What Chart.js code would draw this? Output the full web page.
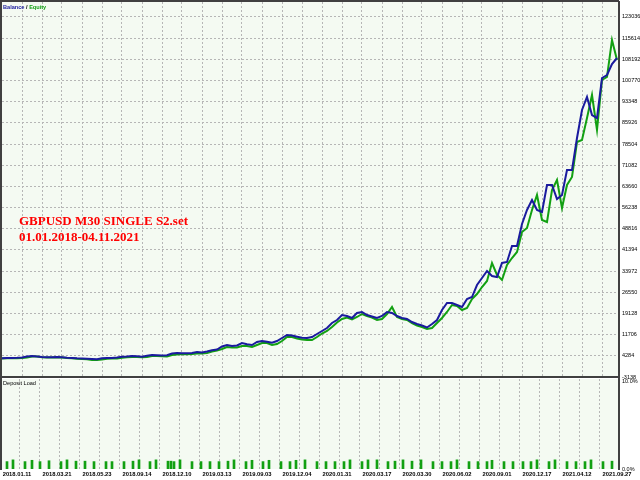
<!DOCTYPE html>
<html>
<head>
<meta charset="utf-8">
<script src="https://cdn.jsdelivr.net/npm/chart.js@4/dist/chart.umd.min.js"></script>
<style>
  body { margin: 0; background: #fff; }
  #wrap { position: relative; width: 640px; height: 480px; overflow: hidden; }
  #mainBox { position: absolute; left: 0; top: 0; }
  #loadBox { position: absolute; left: 0; top: 378px; }
  .tiny { position: absolute; font: 5.6px 'Liberation Sans', Arial, sans-serif; white-space: nowrap; color: #000; }
  .title { position: absolute; left: 19px; color: #ff0000; font: bold 13px 'Liberation Serif', 'Times New Roman', serif; white-space: nowrap; }
</style>
</head>
<body>
<div id="wrap">
  <canvas id="mainBox" width="640" height="384"></canvas>
  <canvas id="loadBox" width="640" height="102"></canvas>
  <div class="tiny" style="left:3px;top:4px;font-weight:bold"><span style="color:#1a1a9e">Balance</span> / <span style="color:#12a012">Equity</span></div>
  <div class="title" style="top:213px">GBPUSD M30 SINGLE S2.set</div>
  <div class="title" style="top:229px">01.01.2018-04.11.2021</div>
  <div class="tiny" style="left:3px;top:380px">Deposit Load</div>
</div>
<script>
// x axis date labels (every other grid line)
var dateLabels = ['2018.01.11','2018.03.21','2018.05.23','2018.09.14','2018.12.10','2019.03.13','2019.09.03','2019.12.04',
  '2020.01.31','2020.03.17','2020.03.30','2020.06.02','2020.09.01','2020.12.17','2021.04.12','2021.09.27'];

// right axis values of the balance panel
var yTickValues = [-3138, 4284, 11706, 19128, 26550, 33972, 41394, 48816, 56238, 63660, 71082, 78504, 85926, 93348, 100770, 108192, 115614, 123036];

// balance / equity, one value per step along the trade axis
var balance = [
  3410, 3520, 3520, 3590, 3700, 4050, 4220, 4050, 3870, 3800,
  3770, 3870, 3770, 3590, 3520, 3410, 3340, 3240, 3170, 3060,
  3410, 3520, 3520, 3700, 3940, 4050, 4220, 4120, 3980, 4290,
  4570, 4470, 4360, 4470, 5100, 5270, 5170, 5200, 5270, 5620,
  5450, 5800, 6220, 6500, 7550, 8080, 7720, 7900, 8780, 8320,
  8080, 9130, 9480, 9230, 8850, 9480, 10530, 11580, 11400, 10980,
  10600, 10530, 10880, 11930, 12980, 14030, 15780, 16840, 18590, 18240,
  17540, 19290, 19640, 18590, 18060, 17540, 18240, 19640, 19290, 18240,
  17540, 17190, 16130, 15430, 14910, 14210, 15430, 16840, 20340, 22790,
  22790, 22090, 21390, 24190, 24890, 29100, 31550, 34000, 32250, 31900,
  36810, 37160, 42760, 42760, 50470, 55380, 58880, 55380, 54680, 64140,
  64140, 59230, 60640, 69400, 69400, 80610, 90420, 94970, 88670, 87620,
  101630, 102680, 106540, 108640
];
var equity = [
  3340, 3450, 3450, 3410, 3520, 3700, 4050, 4050, 3800, 3700,
  3700, 3770, 3700, 3520, 3410, 3240, 3170, 3060, 2820, 2820,
  2990, 3240, 3340, 3340, 3590, 3770, 3870, 3870, 3770, 3870,
  4220, 4220, 4120, 4050, 4570, 4750, 4920, 4820, 4920, 5100,
  5100, 5270, 5800, 6150, 6670, 7370, 7200, 7200, 7720, 7720,
  7370, 8080, 8780, 8780, 8080, 8430, 9480, 10880, 10880, 10350,
  10000, 9830, 9830, 10880, 12100, 12980, 14380, 15960, 17190, 17710,
  17010, 17890, 18940, 18240, 17710, 16840, 17190, 18940, 21390, 17890,
  17190, 16840, 15780, 14910, 14380, 13680, 14030, 15780, 17540, 19640,
  22090, 21740, 20340, 21040, 24190, 25950, 28400, 30500, 36810, 32600,
  30850, 36110, 38560, 40660, 47670, 49070, 55380, 60640, 51880, 51170,
  62390, 65890, 56080, 64140, 66940, 79210, 79910, 87620, 95680, 83410,
  100930, 101980, 114950, 107940
];

// deposit load bars: position on the trade axis and load in %
var loadPos = [1.0, 2.2, 4.6, 6.0, 7.6, 9.4, 11.8, 13.0, 14.8, 16.6, 18.4, 20.8, 22.0, 24.4, 26.2, 27.4, 29.6, 30.8,
  33.2, 33.8, 34.4, 35.6, 38.0, 39.8, 41.6, 43.4, 45.2, 46.4, 48.8, 50.0, 52.2, 53.4, 55.8, 57.6, 58.8, 60.6, 63.0,
  64.8, 66.6, 68.4, 69.6, 72.0, 73.2, 75.0, 77.2, 78.6, 80.2, 82.0, 83.8, 86.2, 88.0, 89.8, 91.0, 93.4, 95.2, 97.0,
  98.0, 100.4, 102.2, 104.2, 105.8, 107.0, 109.4, 110.6, 113.0, 114.8, 116.6, 117.8, 120.2, 122.0];
var loadPct = [0.85, 1.05, 0.85, 1.0, 0.85, 0.95, 0.85, 1.05, 0.9, 0.9, 0.85, 0.85, 0.85, 0.85, 0.9, 1.05, 0.85, 1.05,
  0.9, 0.9, 0.85, 1.05, 0.85, 0.85, 0.85, 0.85, 0.9, 1.05, 0.85, 1.0, 0.85, 1.0, 0.85, 0.85, 1.0, 1.05, 0.85,
  0.85, 0.85, 0.85, 1.05, 0.85, 1.05, 1.05, 0.85, 0.9, 1.05, 0.9, 1.05, 0.85, 0.85, 0.85, 1.05, 0.85, 0.85, 0.85,
  1.0, 0.85, 0.85, 0.85, 0.85, 1.05, 0.85, 1.05, 0.85, 0.85, 0.85, 1.05, 0.85, 0.9];

var X_MAX = 123.4;
var fontFamily = "'Liberation Sans', Arial, sans-serif";
var gridGray = '#b6b6b6';
var frameColor = '#404040';

function everyStep(scale) {
  var t = [];
  for (var i = 0; i <= 123; i++) t.push({ value: i });
  scale.ticks = t;
}
function gridColor(c) {
  return (c.tick && c.tick.value % 4 === 0 && c.tick.value > 0) ? gridGray : 'rgba(0,0,0,0)';
}
function noPad(scale) {
  scale.paddingTop = 0; scale.paddingBottom = 0;
  scale.paddingLeft = 0; scale.paddingRight = 0;
}

var panelPlugin = {
  id: 'panel',
  beforeDraw: function (chart) {
    var a = chart.chartArea, ctx = chart.ctx;
    ctx.save();
    ctx.fillStyle = '#f4faf2';
    ctx.fillRect(a.left, a.top, a.right - a.left, a.bottom - a.top);
    ctx.restore();
  },
  afterDraw: function (chart, args, opts) {
    var a = chart.chartArea, ctx = chart.ctx;
    ctx.save();
    ctx.fillStyle = frameColor;
    ctx.fillRect(a.left - 2, 0, 2, a.bottom + 1);
    if (opts.closed) {
      ctx.fillRect(a.left - 2, a.top - 2, a.right - a.left + 2, 2);
      ctx.fillRect(a.left - 2, a.bottom - 1, a.right - a.left + 3, 2);
    }
    ctx.restore();
  }
};

var mainChart = new Chart(document.getElementById('mainBox'), {
  type: 'line',
  data: {
    datasets: [{
      label: 'Balance',
      data: balance.map(function (v, i) { return { x: i, y: v }; }),
      borderColor: '#1a1a9e',
      borderWidth: 2,
      pointRadius: 0,
      tension: 0
    }, {
      label: 'Equity',
      data: equity.map(function (v, i) { return { x: i, y: v }; }),
      borderColor: '#12a012',
      borderWidth: 2,
      pointRadius: 0,
      tension: 0
    }]
  },
  options: {
    responsive: false,
    animation: false,
    layout: { padding: { left: 2, top: 2, right: 0, bottom: 7 } },
    plugins: { legend: { display: false }, tooltip: { enabled: false }, panel: { closed: true } },
    scales: {
      x: {
        type: 'linear', min: 0, max: X_MAX,
        afterBuildTicks: everyStep,
        afterFit: function (s) { s.height = 0; noPad(s); },
        ticks: { display: false, autoSkip: false },
        grid: { color: gridColor, drawTicks: false },
        border: { display: false, dash: [2, 2] }
      },
      y: {
        position: 'right',
        min: -3138, max: 128262,
        afterBuildTicks: function (s) { s.ticks = yTickValues.map(function (v) { return { value: v }; }); },
        afterFit: function (s) { s.width = 21; noPad(s); },
        ticks: { font: { family: fontFamily, size: 5.5 }, color: '#000', padding: 3, autoSkip: false,
                 callback: function (v) { return String(v); } },
        grid: { color: gridGray, drawTicks: false },
        border: { display: true, color: frameColor, width: 2, dash: [2, 2] }
      }
    }
  },
  plugins: [panelPlugin]
});

var loadChart = new Chart(document.getElementById('loadBox'), {
  type: 'bar',
  data: {
    datasets: [{
      label: 'Deposit Load',
      data: loadPos.map(function (p, i) { return { x: p, y: loadPct[i] }; }),
      backgroundColor: '#12a012',
      barThickness: 2
    }]
  },
  options: {
    responsive: false,
    animation: false,
    layout: { padding: { left: 2, top: 1, right: 0, bottom: 0 } },
    plugins: { legend: { display: false }, tooltip: { enabled: false }, panel: { closed: false } },
    scales: {
      x: {
        type: 'linear', min: 0, max: X_MAX, offset: false,
        afterBuildTicks: everyStep,
        afterFit: function (s) { s.height = 11; noPad(s); },
        ticks: {
          font: { family: fontFamily, size: 5.8, weight: 'bold' }, color: '#000', padding: 2,
          autoSkip: false, maxRotation: 0,
          callback: function (v) { return (v - 3) % 8 === 0 ? dateLabels[(v - 3) / 8] : ''; }
        },
        grid: { color: gridColor, drawTicks: false },
        border: { display: false, dash: [2, 2] }
      },
      y: {
        position: 'right',
        min: 0, max: 10.34,
        afterBuildTicks: function (s) { s.ticks = [{ value: 0 }, { value: 10 }]; },
        afterFit: function (s) { s.width = 21; noPad(s); },
        ticks: { font: { family: fontFamily, size: 5.5 }, color: '#000', padding: 3,
                 callback: function (v) { return v.toFixed(1) + '%'; } },
        grid: { display: false, drawTicks: false },
        border: { display: true, color: frameColor, width: 2 }
      }
    }
  },
  plugins: [panelPlugin]
});
</script>
</body>
</html>
